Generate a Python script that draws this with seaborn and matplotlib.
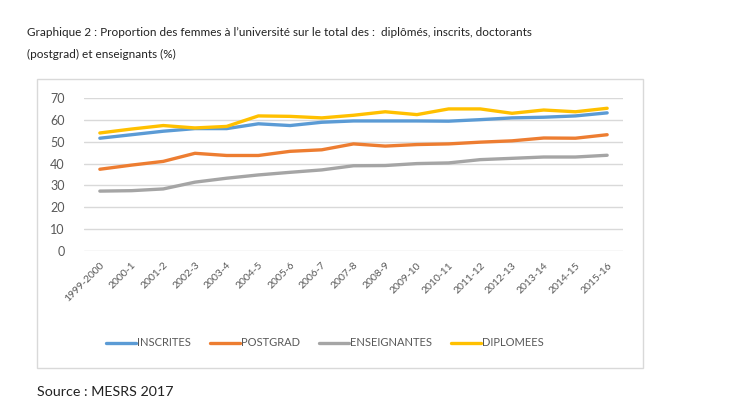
import numpy as np
import pandas as pd
import seaborn as sns
import matplotlib.pyplot as plt
from matplotlib.patches import Rectangle

years = ['1999-2000', '2000-1', '2001-2', '2002-3', '2003-4', '2004-5', '2005-6',
         '2006-7', '2007-8', '2008-9', '2009-10', '2010-11', '2011-12', '2012-13',
         '2013-14', '2014-15', '2015-16']
inscrites = [51.6, 53.2, 54.8, 56.0, 56.0, 58.2, 57.4, 58.9, 59.5, 59.5, 59.5,
             59.4, 60.1, 60.9, 61.2, 61.8, 63.2]
postgrad = [37.4, 39.3, 41.0, 44.7, 43.7, 43.7, 45.6, 46.3, 49.0, 48.0, 48.7,
            49.0, 49.8, 50.4, 51.7, 51.6, 53.2]
enseignantes = [27.4, 27.6, 28.4, 31.5, 33.3, 34.8, 36.0, 37.1, 39.0, 39.1, 40.0,
                40.3, 41.8, 42.4, 43.0, 43.0, 43.8]
diplomees = [54.0, 55.8, 57.4, 56.3, 57.0, 61.8, 61.6, 60.9, 62.1, 63.7, 62.4,
             65.0, 65.0, 63.0, 64.5, 63.7, 65.3]

series = {'INSCRITES': inscrites, 'POSTGRAD': postgrad,
          'ENSEIGNANTES': enseignantes, 'DIPLOMEES': diplomees}
palette = {'INSCRITES': '#5B9BD5', 'POSTGRAD': '#ED7D31',
           'ENSEIGNANTES': '#A5A5A5', 'DIPLOMEES': '#FFC000'}

df = pd.concat([pd.DataFrame({'annee': years, 'valeur': v, 'serie': k})
                for k, v in series.items()], ignore_index=True)

sns.set_style('white')
plt.rcParams['font.family'] = ['Lato', 'DejaVu Sans']

W, H = 754, 418
fig = plt.figure(figsize=(W / 100, H / 100), dpi=100)

# chart frame (Excel style)
fig.patches.append(Rectangle((37 / W, 1 - 368 / H), (643 - 37) / W, (368 - 79) / H,
                             transform=fig.transFigure, fill=False,
                             edgecolor='#d9d9d9', lw=1))

ax = fig.add_axes([84 / W, 1 - 251 / H, (623 - 84) / W, (251 - 98) / H])
sns.lineplot(data=df, x='annee', y='valeur', hue='serie', palette=palette,
             sort=False, lw=2.4, ax=ax, legend=False)

ax.set_xlim(-0.5, len(years) - 0.5)
ax.set_ylim(0, 70)
ax.set_yticks(range(0, 71, 10))
ax.grid(axis='y', color='#d9d9d9', lw=1)
ax.set_axisbelow(True)
for s in ax.spines.values():
    s.set_visible(False)
ax.set_xlabel('')
ax.set_ylabel('')
ax.tick_params(axis='y', length=0, pad=14, labelsize=9, labelcolor='#595959')
ax.tick_params(axis='x', length=0, pad=7, labelsize=7.5, labelcolor='#595959')
ax.set_xticks(range(len(years)))
ax.set_xticklabels(years, rotation=45, ha='right', rotation_mode='anchor')

handles = [plt.Line2D([], [], color=palette[k], lw=2.4) for k in series]
fig.legend(handles, list(series), loc='center', bbox_to_anchor=(325 / W, 1 - 343 / H),
           ncol=4, frameon=False, fontsize=8, handlelength=2.7, handletextpad=0.1,
           columnspacing=1.7, labelcolor='#595959')

fig.text(27 / W, 1 - 33 / H,
         "Graphique 2 : Proportion des femmes à l’université sur le total des :  diplômés, inscrits, doctorants",
         fontsize=8.5, va='center', ha='left', color='#222222')
fig.text(27 / W, 1 - 54 / H, "(postgrad) et enseignants (%)",
         fontsize=8.5, va='center', ha='left', color='#222222')
fig.text(37 / W, 1 - 392 / H, "Source : MESRS 2017",
         fontsize=10.3, va='center', ha='left', color='#222222')

fig.savefig('out.png', dpi=100)
